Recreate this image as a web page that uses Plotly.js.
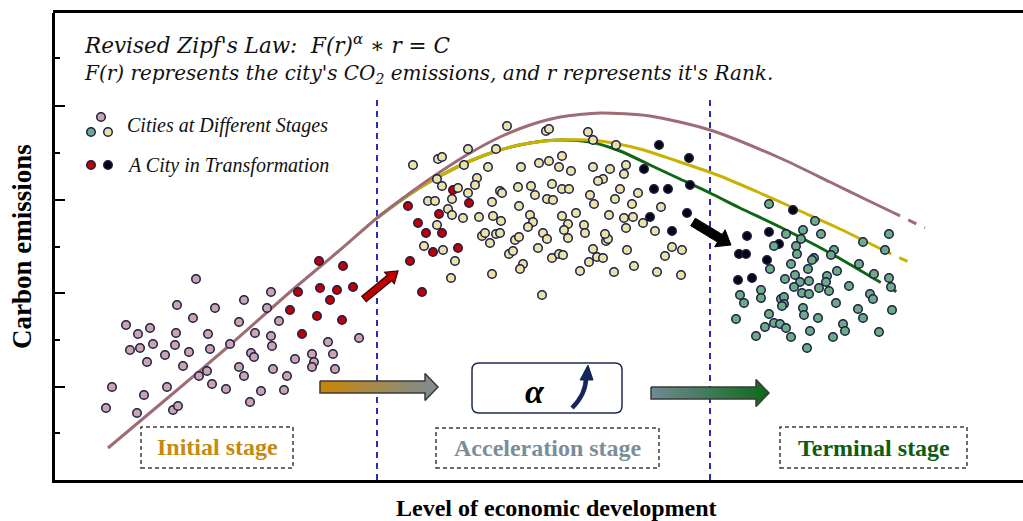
<!DOCTYPE html>
<html><head><meta charset="utf-8">
<script src="https://cdn.plot.ly/plotly-3.0.1.min.js"></script>
<style>html,body{margin:0;padding:0;background:#fff}#chart{width:1023px;height:521px}</style>
</head><body><div id="chart"></div>
<script>
// ---- data (x: level of economic development, y: carbon emissions; arbitrary units) ----
const initialCities = [[73,157],[59,95],[53,74],[84,69],[91,87],[77,132],[87,134],[85,148],[97,154],[100,138],[94,120],[112,127],[114,95],[120,72],[125,76],[130,116],[122,137],[123,149],[124,177],[136,130],[140,164],[143,203],[146,106],[154,111],[159,98],[155,148],[157,133],[162,174],[173,93],[177,138],[186,115],[191,106],[186,160],[191,182],[198,129],[201,125],[202,149],[197,80],[208,91],[214,174],[218,190],[218,146],[219,136],[226,161],[220,113],[231,92],[234,106],[242,123],[259,128],[261,120],[259,115],[275,140],[280,128],[282,113],[306,144]];
const redCities = [[266,221],[290,216],[245,190],[267,194],[284,192],[300,195],[277,182],[237,172],[264,166],[289,162],[249,148],[355,276],[365,259],[373,249],[389,249],[386,268],[380,230],[405,234],[357,221],[369,190],[400,292],[416,279]];
const accelCities = [[454,356],[493,351],[496,353],[535,350],[540,342],[563,337],[360,317],[385,323],[389,325],[415,333],[443,333],[411,317],[435,315],[468,315],[486,319],[496,321],[509,326],[506,315],[518,311],[540,315],[557,313],[573,317],[571,308],[384,303],[389,296],[424,304],[422,297],[405,294],[415,289],[399,283],[375,281],[382,281],[447,291],[449,289],[465,295],[478,296],[482,287],[494,283],[500,282],[499,298],[509,293],[516,293],[537,287],[550,303],[545,301],[567,293],[585,289],[562,283],[579,278],[541,278],[439,280],[466,276],[395,273],[399,267],[410,264],[426,265],[440,266],[448,261],[477,267],[480,260],[475,255],[509,266],[523,269],[515,258],[511,252],[515,244],[531,257],[532,249],[556,267],[571,264],[580,265],[573,254],[590,259],[602,251],[608,275],[384,257],[371,236],[390,232],[402,221],[398,204],[429,246],[432,249],[437,239],[443,248],[447,249],[462,242],[466,245],[456,228],[460,231],[470,218],[467,213],[485,234],[490,249],[494,243],[499,224],[506,228],[510,227],[527,211],[536,220],[540,233],[544,225],[550,224],[553,241],[555,243],[552,248],[561,210],[574,232],[581,216],[604,210],[612,226],[619,235],[629,232],[628,207],[439,208],[489,187]];
const blackCities = [[606,337],[636,324],[591,313],[601,293],[615,293],[637,297],[597,265],[634,269],[619,251],[740,272],[694,246],[716,250],[726,238],[686,228],[693,228],[714,222],[685,202],[699,204]];
const terminalCities = [[716,278],[762,261],[750,252],[733,248],[748,243],[768,248],[836,248],[810,240],[832,232],[721,236],[743,236],[744,228],[781,232],[778,227],[761,224],[759,222],[738,218],[717,213],[755,213],[806,218],[784,211],[821,208],[836,204],[774,206],[742,207],[732,203],[747,200],[756,201],[773,200],[741,195],[766,194],[776,191],[796,196],[838,195],[749,189],[756,188],[817,188],[820,183],[687,187],[708,192],[708,184],[691,179],[728,183],[731,185],[731,178],[729,176],[783,179],[750,174],[751,167],[716,168],[805,173],[810,164],[839,172],[683,163],[765,164],[721,159],[727,158],[712,155],[733,154],[790,158],[792,151],[757,151],[703,146],[738,145],[780,145],[826,150],[754,134]];
const mauveCurve = [[55,34],[117,86],[177,137],[237,190],[287,232],[324,264],[357,289],[387,310],[417,329],[447,345],[477,357],[507,365],[547,369],[597,366],[657,352],[727,324],[777,300],[814,282],[839,270]];
const mauveDash = [[839,270],[872,254]];
const yellowCurve = [[324,264],[357,288],[387,306],[417,321],[447,332],[477,339],[507,342],[547,341],[587,333],[627,320],[667,306],[707,289],[747,271],[787,253],[830,232]];
const yellowDash = [[830,232],[860,218]];
const greenCurve = [[324,264],[357,288],[387,306],[417,321],[447,332],[477,339],[507,342],[537,340],[567,331],[597,317],[627,303],[657,289],[687,274],[727,255],[777,229],[820,204]];
const greenDash = [[820,204],[844,190]];
const stageBoundaries = [324, 657];
const stageLabels = ['Initial stage', 'Acceleration stage', 'Terminal stage'];
const legendLabels = ['Cities at Different Stages', 'A City in Transformation'];

// ---- styling ----
const C = {
  mauve:'#cba5ab', red:'#be0000', yellow:'#ebe3a4', black:'#05050f', green:'#6dab83',
  edge:'#1c1c48', mauveLine:'#9d6c74', yellowLine:'#c9b300', greenLine:'#0d6714',
  vline:'#2b2bb3'
};
const SERIF = 'Liberation Serif, Times New Roman, serif';
const MATH = 'DejaVu Serif, serif';
const X = a => a.map(p => p[0]);
const Y = a => a.map(p => p[1]);

function pts(arr, fill, name){
  return {type:'scatter', mode:'markers', x:X(arr), y:Y(arr), name:name, showlegend:false,
    marker:{size:8.5, color:fill, line:{color:C.edge, width:1.5}}, hoverinfo:'skip'};
}
function line(arr, color, dash){
  return {type:'scatter', mode:'lines', x:X(arr), y:Y(arr), showlegend:false, hoverinfo:'skip',
    line:{color:color, width:3, shape:'spline', smoothing:0.7, dash:dash||'solid'}};
}
function arrowPoly(x0,y0,x1,y1,sw,hw,hl){
  const dx=x1-x0, dy=y1-y0, L=Math.hypot(dx,dy), ux=dx/L, uy=dy/L, nx=-uy, ny=ux;
  const bx=x1-ux*hl, by=y1-uy*hl;
  return [[x0+nx*sw/2,y0+ny*sw/2],[bx+nx*sw/2,by+ny*sw/2],[bx+nx*hw/2,by+ny*hw/2],[x1,y1],
          [bx-nx*hw/2,by-ny*hw/2],[bx-nx*sw/2,by-ny*sw/2],[x0-nx*sw/2,y0-ny*sw/2]];
}
const polyPath = p => 'M' + p.map(q => q[0].toFixed(1)+','+q[1].toFixed(1)).join('L') + 'Z';
function roundRect(x0,y0,x1,y1,r){
  return `M${x0+r},${y0} L${x1-r},${y0} Q${x1},${y0} ${x1},${y0+r} L${x1},${y1-r} Q${x1},${y1} ${x1-r},${y1} L${x0+r},${y1} Q${x0},${y1} ${x0},${y1-r} L${x0},${y0+r} Q${x0},${y0} ${x0+r},${y0} Z`;
}
function gradArrow(x0,x1,yc,c0,c1){
  const p = arrowPoly(x0,yc,x1,yc,12,27,13); p.push(p[0]);
  return {type:'scatter', mode:'lines', x:X(p), y:Y(p), fill:'toself', showlegend:false, hoverinfo:'skip',
    line:{color:'#3a3a3a', width:1.5},
    fillgradient:{type:'horizontal', colorscale:[[0,c0],[1,c1]]}};
}

const data = [
  line(greenCurve, C.greenLine), line(greenDash, C.greenLine, 'dash'),
  line(yellowCurve, C.yellowLine), line(yellowDash, C.yellowLine, 'dash'),
  line(mauveCurve, C.mauveLine), line(mauveDash, C.mauveLine, 'dash'),
  gradArrow(267,385,95,'#c98507','#7d8d94'),
  gradArrow(598,716,89,'#6f8b96','#0d6a16'),
  pts(initialCities, C.mauve, 'initial'),
  pts(redCities, C.red, 'transform1'),
  pts(accelCities, C.yellow, 'acceleration'),
  pts(blackCities, C.black, 'transform2'),
  pts(terminalCities, C.green, 'terminal'),
  // legend glyphs
  pts([[48,365]], C.mauve), pts([[38,350]], C.green), pts([[55,350]], C.yellow),
  pts([[38,317]], C.red), pts([[55,317]], C.black)
];

const shapes = [];
stageBoundaries.forEach(xb => shapes.push({type:'line', xref:'x', yref:'y', x0:xb, x1:xb, y0:2, y1:387,
  line:{color:C.vline, width:2, dash:'6px,5px'}, layer:'below'}));
shapes.push({type:'line', xref:'paper', yref:'paper', x0:-0.002, x1:1.01, y0:1.003, y1:1.003, line:{color:'#000', width:3}});
[[88,240,14,55],[383,606,14,54],[727,914,14,55]].forEach(b => shapes.push({type:'rect', xref:'x', yref:'y',
  x0:b[0], x1:b[1], y0:b[2], y1:b[3], line:{color:'#3c3c3c', width:1.5, dash:'4px,3px'}, fillcolor:'rgba(0,0,0,0)'}));
shapes.push({type:'path', xref:'x', yref:'y', path:roundRect(419,69,569,119,7), line:{color:'#1f2b55', width:1.5}, fillcolor:'#fff'});
shapes.push({type:'path', xref:'x', yref:'y', path:'M519,74 Q533,88 533,104', line:{color:'#13275a', width:4.5}});
shapes.push({type:'path', xref:'x', yref:'y', path:'M527,102 L535,117 L540,102 Z', line:{color:'#13275a', width:1}, fillcolor:'#13275a'});
shapes.push({type:'path', xref:'x', yref:'y', path:polyPath(arrowPoly(311,183,345,211,7,15,11)), line:{color:'#3a0000', width:1.2}, fillcolor:C.red});
shapes.push({type:'path', xref:'x', yref:'y', path:polyPath(arrowPoly(640,260,678,237,9,20,13)), line:{color:'#000', width:1}, fillcolor:'#000'});

const ann = (o) => Object.assign({xref:'x', yref:'y', showarrow:false}, o);
const annotations = [
  ann({x:29, y:438, xanchor:'left', text:"Revised Zipf's Law:  F(r)<sup>α</sup> ∗ r = C",
       font:{family:MATH, size:21.5, style:'italic', color:'#111'}}),
  ann({x:29, y:408, xanchor:'left', text:"F(r) represents the city's CO<sub>2</sub> emissions, and r represents it's Rank.",
       font:{family:MATH, size:20, style:'italic', color:'#111'}}),
  ann({x:72, y:357, xanchor:'left', text:legendLabels[0], font:{family:SERIF, size:20, style:'italic', color:'#111'}}),
  ann({x:72, y:317, xanchor:'left', text:legendLabels[1], font:{family:SERIF, size:20, style:'italic', color:'#111'}}),
  ann({x:164, y:35, text:'<b>'+stageLabels[0]+'</b>', font:{family:SERIF, size:24, color:'#c68a10'}}),
  ann({x:495, y:34, text:'<b>'+stageLabels[1]+'</b>', font:{family:SERIF, size:24, color:'#7b8e98'}}),
  ann({x:821, y:34, text:'<b>'+stageLabels[2]+'</b>', font:{family:SERIF, size:24, color:'#0e5c12'}}),
  ann({x:482, y:91, text:'<b><i>α</i></b>', font:{family:SERIF, size:34, color:'#000'}}),
  {xref:'paper', yref:'paper', x:0.5176, y:-0.061, xanchor:'center', yanchor:'middle', showarrow:false,
   text:'<b>Level of economic development</b>', font:{family:SERIF, size:24, color:'#000'}},
  {xref:'paper', yref:'paper', x:-0.034, y:0.499, xanchor:'center', yanchor:'middle', showarrow:false, textangle:-90,
   text:'<b>Carbon emissions</b>', font:{family:SERIF, size:27, color:'#000'}}
];

const layout = {
  width:1023, height:521, margin:{l:55, r:0, t:13, b:41},
  paper_bgcolor:'#fff', plot_bgcolor:'#fff', showlegend:false, hovermode:false,
  xaxis:{range:[2,970], showline:true, linewidth:3, linecolor:'#000', showgrid:false, zeroline:false,
         showticklabels:false, ticks:''},
  yaxis:{range:[2,469], showline:true, linewidth:3, linecolor:'#000', showgrid:false, zeroline:false,
         showticklabels:false, ticks:'inside', ticklen:10, tickwidth:2, tickcolor:'#000',
         tickmode:'array', tickvals:[95,189,282,376],
         minor:{ticks:'inside', ticklen:5, tickwidth:2, tickcolor:'#000', tickmode:'array', tickvals:[49,142,235,329,424]}},
  shapes:shapes, annotations:annotations
};
Plotly.newPlot('chart', data, layout, {displayModeBar:false, staticPlot:true});
</script></body></html>
